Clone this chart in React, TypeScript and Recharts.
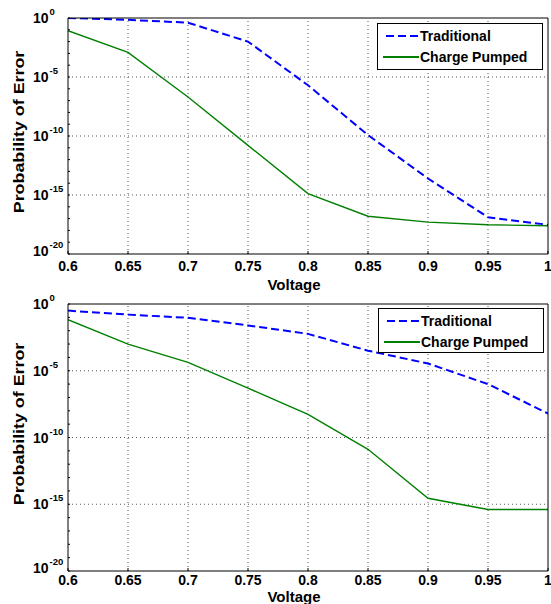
import React from 'react';
import { Line, LineChart, ReferenceLine, XAxis, YAxis } from 'recharts';

const FONT = "'Liberation Sans', Arial, Helvetica, sans-serif";

const VOLTAGE = [0.6, 0.65, 0.7, 0.75, 0.8, 0.85, 0.9, 0.95, 1];
const X_TICKS = [0.6, 0.65, 0.7, 0.75, 0.8, 0.85, 0.9, 0.95, 1];
const Y_MAJOR = [1e-20, 1e-15, 1e-10, 1e-5, 1];
const Y_DECADES = [
  1e-20, 1e-19, 1e-18, 1e-17, 1e-16, 1e-15, 1e-14, 1e-13, 1e-12, 1e-11, 1e-10,
  1e-9, 1e-8, 1e-7, 1e-6, 1e-5, 1e-4, 1e-3, 1e-2, 1e-1, 1,
];

// upper panel
const TOP_TRADITIONAL = [1, 0.7, 0.4, 1e-2, 2e-6, 1.2e-10, 2.5e-14, 1.3e-17, 3e-18];
const TOP_PUMPED = [8.5e-2, 1.2e-3, 2e-7, 1.6e-11, 1.3e-15, 1.6e-17, 5e-18, 3e-18, 2.5e-18];

// lower panel
const BOTTOM_TRADITIONAL = [0.32, 0.16, 0.093, 0.025, 5.8e-3, 3.2e-4, 3.5e-5, 1e-6, 6.3e-9];
const BOTTOM_PUMPED = [6.6e-2, 1e-3, 4.3e-5, 5e-7, 5.4e-9, 1.3e-11, 2.8e-15, 4e-16, 4e-16];

const LEGEND = ['Traditional', 'Charge Pumped'];

const GRID = { stroke: '#555', strokeDasharray: '1 3', strokeWidth: 1 };

const YTick = (props: any) => {
  const { x, y, payload } = props;
  const exp = Math.round(Math.log10(payload.value));
  if (exp % 5 !== 0) return null;
  const cy = exp === -20 ? y - 3 : y;
  return (
    <text x={x - 35} y={cy + 5} fontFamily={FONT} fontWeight="bold" fontSize={14} fill="#000">
      10
      <tspan dx={1} dy={-8} fontSize={9.5}>
        {String(exp)}
      </tspan>
    </text>
  );
};

const makeXTick = (gap: number) => (props: any) => (
  <text
    x={props.x}
    y={props.y + gap}
    textAnchor="middle"
    fontFamily={FONT}
    fontWeight="bold"
    fontSize={14}
    fill="#000"
  >
    {props.payload.value}
  </text>
);

function Panel({
  trad,
  pumped,
  height,
  marginTop,
  xAxisHeight,
  tickGap,
}: {
  trad: number[];
  pumped: number[];
  height: number;
  marginTop: number;
  xAxisHeight: number;
  tickGap: number;
}) {
  const rows = VOLTAGE.map((v, i) => ({ v, trad: trad[i], pumped: pumped[i] }));
  return (
    <LineChart
      width={551}
      height={height}
      data={rows}
      margin={{ top: marginTop, right: 2, bottom: 0, left: 0 }}
    >
      <XAxis
        xAxisId="b"
        dataKey="v"
        type="number"
        domain={[0.6, 1]}
        ticks={X_TICKS}
        interval={0}
        allowDataOverflow
        height={xAxisHeight}
        tickSize={-3}
        tickMargin={3}
        axisLine={{ stroke: '#000' }}
        tickLine={{ stroke: '#000' }}
        tick={makeXTick(tickGap)}
      />
      <XAxis
        xAxisId="t"
        orientation="top"
        dataKey="v"
        type="number"
        domain={[0.6, 1]}
        ticks={X_TICKS}
        interval={0}
        allowDataOverflow
        height={1}
        tickSize={-3}
        axisLine={{ stroke: '#000' }}
        tickLine={{ stroke: '#000' }}
        tick={false}
      />
      <YAxis
        yAxisId="l"
        type="number"
        scale="log"
        domain={[1e-20, 1]}
        ticks={Y_DECADES}
        interval={0}
        allowDataOverflow
        width={68}
        tickSize={-2}
        tickMargin={2}
        axisLine={{ stroke: '#000' }}
        tickLine={{ stroke: '#000' }}
        tick={YTick}
      />
      <YAxis
        yAxisId="r"
        orientation="right"
        type="number"
        scale="log"
        domain={[1e-20, 1]}
        ticks={Y_MAJOR}
        interval={0}
        allowDataOverflow
        width={1}
        tickSize={-3}
        axisLine={{ stroke: '#000' }}
        tickLine={{ stroke: '#000' }}
        tick={false}
      />
      {X_TICKS.slice(1, -1).map((v) => (
        <ReferenceLine key={'x' + v} xAxisId="b" yAxisId="l" x={v} {...GRID} />
      ))}
      {Y_MAJOR.slice(1, -1).map((v) => (
        <ReferenceLine key={'y' + v} xAxisId="b" yAxisId="l" y={v} {...GRID} />
      ))}
      <Line
        xAxisId="b"
        yAxisId="l"
        type="linear"
        dataKey="trad"
        stroke="#0000ff"
        strokeWidth={2}
        strokeDasharray="8 4"
        dot={false}
        isAnimationActive={false}
      />
      <Line
        xAxisId="b"
        yAxisId="l"
        type="linear"
        dataKey="pumped"
        stroke="#008000"
        strokeWidth={1.4}
        dot={false}
        isAnimationActive={false}
      />
    </LineChart>
  );
}

function LegendBox({ x, y, w, h }: { x: number; y: number; w: number; h: number }) {
  const text = { fontFamily: FONT, fontWeight: 'bold' as const, fontSize: 14, fill: '#000' };
  return (
    <g>
      <rect x={x + 0.5} y={y + 0.5} width={w} height={h} fill="#fff" stroke="#000" />
      <line x1={x + 9} x2={x + 42} y1={y + 13} y2={y + 13} stroke="#0000ff" strokeWidth={2} strokeDasharray="8 4" />
      <text x={x + 43} y={y + 18} {...text}>
        {LEGEND[0]}
      </text>
      <line x1={x + 6} x2={x + 42} y1={y + 34} y2={y + 34} stroke="#008000" strokeWidth={2} />
      <text x={x + 43} y={y + 39} {...text}>
        {LEGEND[1]}
      </text>
    </g>
  );
}

export default function App() {
  const title = { fontFamily: FONT, fontWeight: 'bold' as const, fontSize: 15, fill: '#000' };
  return (
    <div style={{ position: 'absolute', left: 0, top: 0, width: 551, height: 604, background: '#fff' }}>
      <div style={{ position: 'absolute', left: 0, top: 0 }}>
        <Panel
          trad={TOP_TRADITIONAL}
          pumped={TOP_PUMPED}
          height={290}
          marginTop={17}
          xAxisHeight={36}
          tickGap={17}
        />
      </div>
      <div style={{ position: 'absolute', left: 0, top: 290 }}>
        <Panel
          trad={BOTTOM_TRADITIONAL}
          pumped={BOTTOM_PUMPED}
          height={314}
          marginTop={13}
          xAxisHeight={33}
          tickGap={14}
        />
      </div>
      <svg
        width={551}
        height={604}
        style={{ position: 'absolute', left: 0, top: 0, pointerEvents: 'none' }}
      >
        <text transform="translate(19,132) rotate(-90) scale(1.19,1)" y={5} textAnchor="middle" {...title}>
          Probability of Error
        </text>
        <text transform="translate(19,424) rotate(-90) scale(1.19,1)" y={5} textAnchor="middle" {...title}>
          Probability of Error
        </text>
        <text x={294} y={290} textAnchor="middle" {...title}>
          Voltage
        </text>
        <text x={294} y={602} textAnchor="middle" {...title}>
          Voltage
        </text>
        <LegendBox x={377} y={23} w={165} h={46} />
        <LegendBox x={378} y={308} w={165} h={44} />
      </svg>
    </div>
  );
}
